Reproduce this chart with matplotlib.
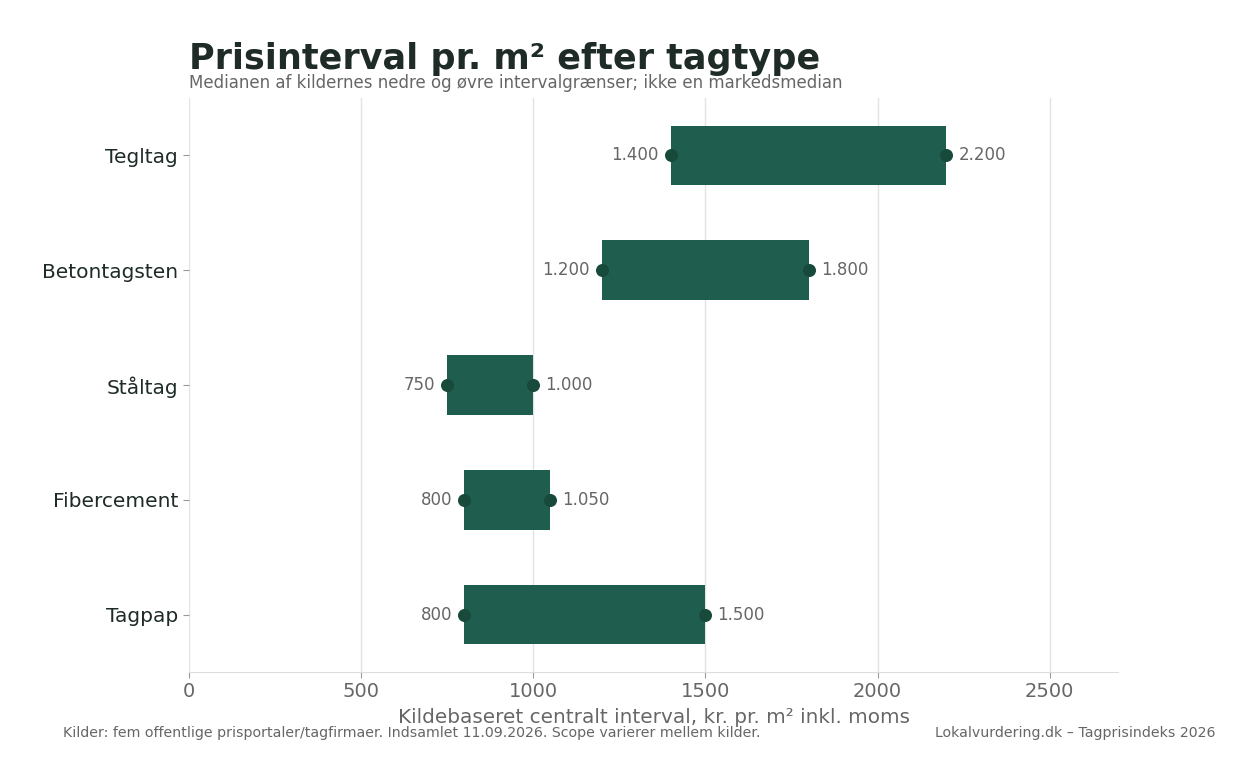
import numpy as np
import matplotlib.pyplot as plt

# data
categories = ["Tegltag", "Betontagsten", "Ståltag", "Fibercement", "Tagpap"]
low = [1400, 1200, 750, 800, 800]
high = [2200, 1800, 1000, 1050, 1500]

bar_color = "#1f5e4e"
dot_color = "#184a3c"
gray = "#666666"
dark = "#1e2b27"


def fmt(v):
    return f"{v:,}".replace(",", ".")


fig = plt.figure(figsize=(12.57, 7.82), dpi=100)
ax = fig.add_axes([0.1504, 0.1407, 0.7394, 0.734])

y = np.arange(len(categories))[::-1]
widths = [h - l for l, h in zip(low, high)]
ax.barh(y, widths, left=low, height=0.52, color=bar_color, zorder=2)
ax.scatter(low, y, s=70, color=dot_color, zorder=3)
ax.scatter(high, y, s=70, color=dot_color, zorder=3)

for yi, l, h in zip(y, low, high):
    ax.text(l - 35, yi, fmt(l), ha="right", va="center", fontsize=12, color=gray)
    ax.text(h + 35, yi, fmt(h), ha="left", va="center", fontsize=12, color=gray)

ax.set_xlim(0, 2700)
ax.set_ylim(-0.5, 4.5)
ax.set_yticks(y)
ax.set_yticklabels(categories, fontsize=14.5, color=dark)
ax.set_xticks([0, 500, 1000, 1500, 2000, 2500])
ax.tick_params(axis="x", labelsize=14, labelcolor=gray, color="#999999", length=4)
ax.tick_params(axis="y", color="#999999", length=4, pad=4)
ax.grid(axis="x", color="#e3e3e3", linewidth=1, zorder=0)
ax.set_axisbelow(True)
for s in ["top", "right", "left"]:
    ax.spines[s].set_visible(False)
ax.spines["bottom"].set_color("#dddddd")

ax.set_xlabel("Kildebaseret centralt interval, kr. pr. m² inkl. moms",
              fontsize=14.4, color=gray, labelpad=5)

fig.text(0.1504, 0.925, "Prisinterval pr. m² efter tagtype", fontsize=25.2,
         fontweight="bold", color=dark, ha="left", va="center")
fig.text(0.1504, 0.894, "Medianen af kildernes nedre og øvre intervalgrænser; ikke en markedsmedian",
         fontsize=12, color=gray, ha="left", va="center")

fig.text(0.05, 0.063, "Kilder: fem offentlige prisportaler/tagfirmaer. Indsamlet 11.09.2026. Scope varierer mellem kilder.",
         fontsize=10.2, color=gray, ha="left", va="center")
fig.text(0.967, 0.063, "Lokalvurdering.dk – Tagprisindeks 2026",
         fontsize=10.2, color=gray, ha="right", va="center")

fig.savefig("out.png", dpi=100)
